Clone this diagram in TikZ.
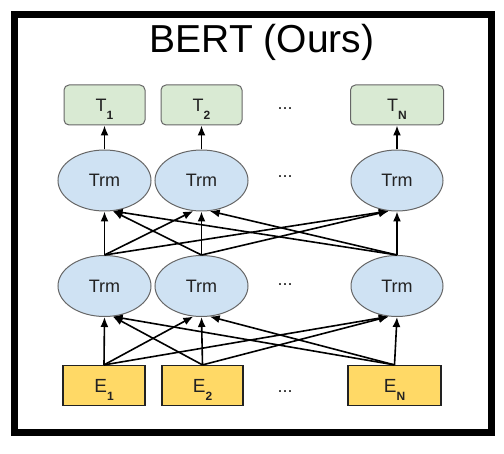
\documentclass[tikz,border=0pt]{standalone}
\usepackage{fontspec}
\setmainfont{Liberation Sans}
\usetikzlibrary{positioning}
\usetikzlibrary{shapes.geometric}
\usetikzlibrary{arrows.meta}

\definecolor{tgreen}{HTML}{D9EAD3}
\definecolor{tblue}{HTML}{CFE2F3}
\definecolor{eyellow}{HTML}{FFD966}
\definecolor{edge}{HTML}{666666}
\definecolor{ink}{HTML}{222222}

\newcommand{\lowsub}[1]{\raisebox{-8pt}[0pt][0pt]{\fontsize{12}{12}\selectfont\bfseries #1}}

\tikzset{
	tbox/.style={draw=edge, fill=tgreen, rounded corners=5pt, line width=1pt, minimum height=40pt, inner sep=0pt, text=ink, font=\fontsize{18}{18}\selectfont},
	ebox/.style={draw=ink, fill=eyellow, line width=1.2pt, minimum height=40pt, inner sep=0pt, text=ink, font=\fontsize{19}{19}\selectfont},
	trm/.style={ellipse, draw=edge, fill=tblue, line width=1pt, minimum height=61pt, inner sep=0pt, text=ink, font=\fontsize{18}{18}\selectfont},
	dots/.style={text=ink, font=\fontsize{18}{18}\selectfont},
	arr/.style={-{Latex[length=10pt,width=8pt]}, line width=1.6pt, black}
}

\begin{document}
\begin{tikzpicture}[x=1pt,y=-1pt]
\useasboundingbox (0,0) rectangle (504,454);

%frame
\draw[line width=7pt, black] (14.5,14.5) rectangle (491.5,432.5);
\node[anchor=base, font=\fontsize{39}{39}\selectfont] (title) at (262,53) {BERT (Ours)};

%outputs
\node[tbox, minimum width=81pt] (t1) at (104.5,105) {T\lowsub{1}};
\node[tbox, minimum width=81pt] (t2) at (201.5,105) {T\lowsub{2}};
\node[tbox, minimum width=93pt] (tn) at (397,105) {T\lowsub{N}};
\node[dots] (dt) at (285,109) {...};

%upper layer
\node[trm, minimum width=93pt] (u1) at (104.5,180.5) {Trm};
\node[trm, minimum width=93pt] (u2) at (201.5,180.5) {Trm};
\node[trm, minimum width=92pt] (un) at (397,180.5) {Trm};
\node[dots] (du) at (285,177) {...};

%lower layer
\node[trm, minimum width=93pt] (l1) at (104.5,286) {Trm};
\node[trm, minimum width=93pt] (l2) at (201.5,286) {Trm};
\node[trm, minimum width=92pt] (ln) at (397,286) {Trm};
\node[dots] (dl) at (285,285) {...};

%inputs
\node[ebox, minimum width=82pt] (e1) at (104,385.5) {E\lowsub{1}};
\node[ebox, minimum width=81pt] (e2) at (202.5,385.5) {E\lowsub{2}};
\node[ebox, minimum width=93pt] (en) at (394.5,385.5) {E\lowsub{N}};
\node[dots] (de) at (285,392) {...};

%arrows
\foreach \i in {1,2,n}
{
	\draw[arr] (u\i.north) -- (t\i.south);
}
\foreach \a/\b/\c in {1/1/south, 2/1/-75, n/1/-75, 1/2/-105, 2/2/south, n/2/-75, 1/n/-105, 2/n/-105, n/n/south}
{
	\draw[arr] (l\a.north) -- (u\b.\c);
	\draw[arr] (e\a.north) -- (l\b.\c);
}

\end{tikzpicture}
\end{document}
